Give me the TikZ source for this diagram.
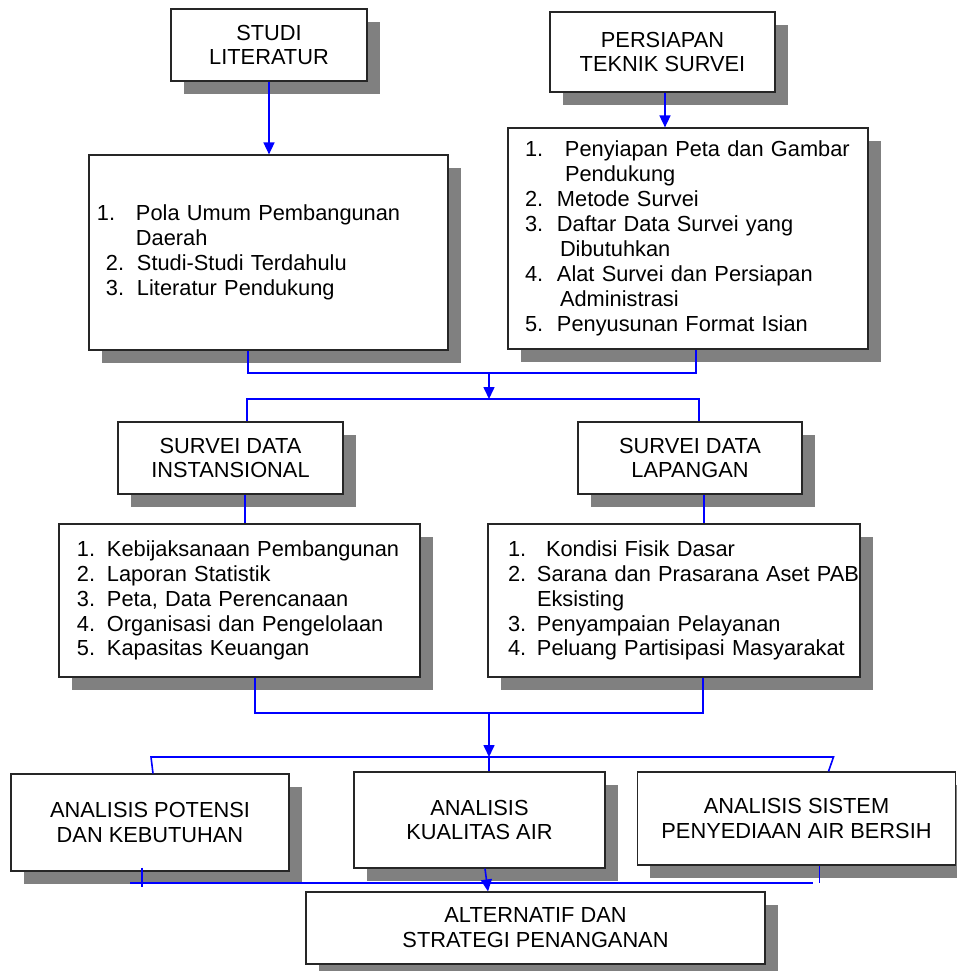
\documentclass[tikz,border=0pt]{standalone}
\usepackage{fontspec}
\setmainfont{Liberation Sans}
\usetikzlibrary{shadows,arrows.meta}

% number at #1, text at #3 (both from the left side of the box)
\newcommand{\numline}[4]{\hspace*{#1}\makebox[\dimexpr #3-#1\relax][l]{#2}\mbox{#4}}
\newcommand{\contline}[2]{\hspace*{#1}\mbox{#2}}

\begin{document}
\begin{tikzpicture}[x=0.5pt,y=-0.5pt,
	box/.style={draw=black!85,line width=0.6pt,fill=white,font=\fontsize{10.9}{12.45}\selectfont,
		drop shadow={shadow xshift=6.25pt,shadow yshift=-6.25pt,fill=black!50,opacity=1}},
	headbox/.style={box,align=center,inner sep=0pt},
	listbox/.style={box,align=left,inner sep=0pt},
	conn/.style={blue,line width=0.8pt},
	arr/.style={conn,-{Triangle[length=6pt,width=5.5pt]}}]
	
	\useasboundingbox (0,0) rectangle (957,971);
	
	\node[headbox,minimum width=98pt,minimum height=36pt] (studi) at (269,45) {STUDI\\LITERATUR};
	\node[headbox,minimum width=112.5pt,minimum height=40pt] (persiapan) at (662.5,52) {PERSIAPAN\\TEKNIK SURVEI};
	
	\node[listbox,text width=179.5pt,minimum height=97.5pt] (pola) at (268.5,252.5) {%
		\numline{4pt}{1.}{23.5pt}{Pola Umum Pembangunan}\\
		\contline{23.5pt}{Daerah}\\
		\numline{8.5pt}{2.}{24pt}{Studi-Studi Terdahulu}\\
		\numline{8.5pt}{3.}{24pt}{Literatur Pendukung}};
	
	\node[listbox,text width=180pt,minimum height=110.5pt] (penyiapan) at (688,238.5) {%
		\numline{8.5pt}{1.}{28.5pt}{Penyiapan Peta dan Gambar}\\
		\contline{28.5pt}{Pendukung}\\
		\numline{8.5pt}{2.}{24.5pt}{Metode Survei}\\
		\numline{8.5pt}{3.}{24.5pt}{Daftar Data Survei yang}\\
		\contline{26pt}{Dibutuhkan}\\
		\numline{8.5pt}{4.}{24.5pt}{Alat Survei dan Persiapan}\\
		\contline{26pt}{Administrasi}\\
		\numline{8.5pt}{5.}{24.5pt}{Penyusunan Format Isian}};
	
	\node[headbox,minimum width=112.5pt,minimum height=36pt] (inst) at (230.5,458) {SURVEI DATA\\INSTANSIONAL};
	\node[headbox,minimum width=112pt,minimum height=36pt] (lap) at (690,458) {SURVEI DATA\\LAPANGAN};
	
	\node[listbox,text width=180.5pt,minimum height=76.5pt] (keb) at (239.5,600.5) {%
		\numline{9pt}{1.}{24pt}{Kebijaksanaan Pembangunan}\\
		\numline{9pt}{2.}{24pt}{Laporan Statistik}\\
		\numline{9pt}{3.}{24pt}{Peta, Data Perencanaan}\\
		\numline{9pt}{4.}{24pt}{Organisasi dan Pengelolaan}\\
		\numline{9pt}{5.}{24pt}{Kapasitas Keuangan}};
	
	\node[listbox,text width=186pt,minimum height=76.5pt] (kon) at (674,600.5) {%
		\numline{10pt}{1.}{29pt}{Kondisi Fisik Dasar}\\
		\numline{10pt}{2.}{24.5pt}{Sarana dan Prasarana Aset PAB}\\
		\contline{24.5pt}{Eksisting}\\
		\numline{10pt}{3.}{24.5pt}{Penyampaian Pelayanan}\\
		\numline{10pt}{4.}{24.5pt}{Peluang Partisipasi Masyarakat}};
	
	\node[headbox,minimum width=139pt,minimum height=48.5pt] (pot) at (150,822.5) {ANALISIS POTENSI\\DAN KEBUTUHAN};
	\node[headbox,minimum width=125.5pt,minimum height=48pt] (kual) at (479.5,820) {ANALISIS\\KUALITAS AIR};
	\node[headbox,minimum width=159pt,minimum height=46.5pt] (sis) at (796.5,818.5) {ANALISIS SISTEM\\PENYEDIAAN AIR BERSIH};
	
	\node[headbox,minimum width=229.5pt,minimum height=36pt] (alt) at (535.5,928) {ALTERNATIF DAN\\STRATEGI PENANGANAN};
	
	% arrows from the top boxes
	\draw[arr] (studi.south) -- (studi.south |- pola.north);
	\draw[arr] ([xshift=1.25pt]persiapan.south) -- ([xshift=1.25pt]persiapan.south |- penyiapan.north);
	
	% join 1
	\coordinate (j1) at (489,373);
	\coordinate (j2) at (489,399);
	\draw[conn] ([xshift=-10.25pt]pola.south) |- (j1) -| ([xshift=4pt]penyiapan.south);
	\draw[arr] (j1) -- (j2);
	\draw[conn] ([xshift=8.25pt]inst.north) |- (j2) -| ([xshift=4.5pt]lap.north);
	
	\draw[conn] ([xshift=7.25pt]inst.south) -- ([xshift=7.25pt]inst.south |- keb.north);
	\draw[conn] ([xshift=7pt]lap.south) -- ([xshift=7pt]lap.south |- kon.north);
	
	% join 2
	\coordinate (j3) at (489,713);
	\coordinate (j4) at (489,757);
	\draw[conn] ([xshift=7.75pt]keb.south) |- (j3) -| ([xshift=14.5pt]kon.south);
	\draw[arr] (j3) -- (j4);
	\draw[conn] ([xshift=1.5pt]pot.north) -- ([xshift=0.5pt]pot.north |- j4) -- ([xshift=18.5pt]sis.north |- j4) -- ([xshift=16pt]sis.north);
	\draw[conn] ([xshift=4.75pt]kual.north) -- ([xshift=4.75pt]kual.north |- j4);
	
	% join 3
	\coordinate (j5) at (485,883);
	\draw[conn] ([xshift=-10pt]pot.south |- j5) -- ([xshift=8pt]sis.south |- j5);
	\draw[conn] ([xshift=-4pt,yshift=2pt]pot.south) -- ++(0,19);
	\draw[conn] ([xshift=11.5pt]sis.south) -- ([xshift=11.5pt]sis.south |- j5);
	\draw[arr] ([xshift=2.75pt]kual.south) -- ([xshift=4.25pt]kual.south |- alt.north);
	
\end{tikzpicture}
\end{document}
